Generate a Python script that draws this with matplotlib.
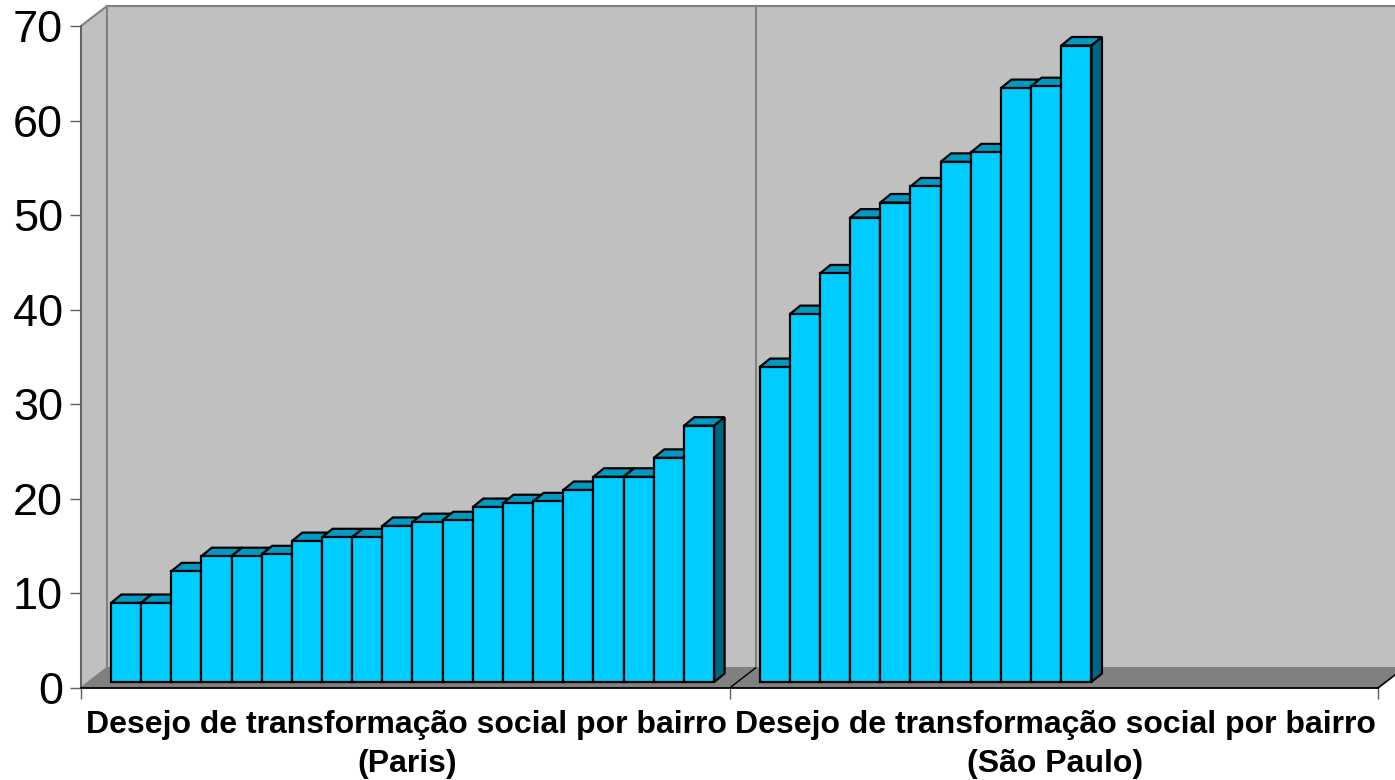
import matplotlib
matplotlib.use('Agg')
import matplotlib.pyplot as plt
from matplotlib.patches import Polygon
from matplotlib.transforms import Affine2D

paris = [8.35, 8.35, 11.7, 13.3, 13.3, 13.5, 14.9, 15.3, 15.3, 16.5,
         16.9, 17.1, 18.5, 18.9, 19.1, 20.3, 21.7, 21.7, 23.7, 27.1]
sao_paulo = [33.3, 38.9, 43.2, 49.1, 50.7, 52.4, 55.0, 56.0, 62.8, 63.0, 67.3]
y_ticks = [0, 10, 20, 30, 40, 50, 60, 70]
group_labels = ['Desejo de transformação social por bairro\n(Paris)',
                'Desejo de transformação social por bairro\n(São Paulo)']

X_MAX = 43
GROUP_EDGE = 21.5
PARIS_START = 0.99
SAO_PAULO_START = 22.5
WALL_DX, WALL_DY = 26, 20  # depth of the chart box, pixels
BASE_DY = 6                # bars stand a little behind the front edge
BAR_DX, BAR_DY = 10.5, 8.5 # depth of a bar, pixels

W, H = 1395, 780
fig = plt.figure(figsize=(W / 100, H / 100), dpi=100)
ax = fig.add_axes([81 / W, (H - 688) / H, 1297 / W, 662 / H])
ax.set_xlim(0, X_MAX)
ax.set_ylim(0, 70)
plt.rcParams['font.family'] = 'Liberation Sans'


def shifted(dx, dy):
    return ax.transData + Affine2D().translate(dx, dy)


def poly(points, dx, dy, **kwargs):
    ax.add_patch(Polygon(points, closed=True, transform=shifted(dx, dy), clip_on=False, **kwargs))


# side wall, back wall and floor
corners = [(0, 0), (0, 70)]
side = ax.transData.transform(corners)
back = ax.transData.transform(corners) + [WALL_DX, WALL_DY]
to_data = ax.transData.inverted()
side_wall = to_data.transform([side[0], side[1], back[1], back[0]])
ax.add_patch(Polygon(side_wall, closed=True, fc='#c0c0c0', ec='#808080', lw=1.5, clip_on=False, zorder=1))
poly([(0, 0), (0, 70), (X_MAX, 70), (X_MAX, 0)], WALL_DX, WALL_DY,
     fc='#c0c0c0', ec='#808080', lw=1.5, zorder=1)

floor = to_data.transform(ax.transData.transform([(0, 0), (X_MAX, 0)]))
floor_back = to_data.transform(ax.transData.transform([(X_MAX, 0), (0, 0)]) + [WALL_DX, WALL_DY])
ax.add_patch(Polygon(list(floor) + list(floor_back), closed=True, fc='#808080', ec='none',
                     clip_on=False, zorder=1.5))
ax.plot([X_MAX, floor_back[0][0]], [0, floor_back[0][1]], color='black', lw=1.2, clip_on=False, zorder=2)
edge_back = to_data.transform(ax.transData.transform((GROUP_EDGE, 0)) + [WALL_DX, WALL_DY])
ax.plot([GROUP_EDGE, edge_back[0]], [0, edge_back[1]], color='black', lw=1.0, clip_on=False, zorder=2)

# divider on the back wall
ax.plot([GROUP_EDGE, GROUP_EDGE], [0, 70], color='#808080', lw=1.5, transform=shifted(WALL_DX, WALL_DY),
        clip_on=False, zorder=1.6)


def draw_bars(values, start):
    for i, v in enumerate(values):
        x0, x1 = start + i, start + i + 1
        z = 3 + i * 0.01
        ends = ax.transData.transform([(x0, v), (x1, v), (x1, 0)]) + [0, BASE_DY]
        top = [ends[0], ends[1], ends[1] + [BAR_DX, BAR_DY], ends[0] + [BAR_DX, BAR_DY]]
        right = [ends[1], ends[2], ends[2] + [BAR_DX, BAR_DY], ends[1] + [BAR_DX, BAR_DY]]
        ax.add_patch(Polygon(to_data.transform(top), closed=True, fc='#0099c0', ec='black', lw=1.6,
                             clip_on=False, zorder=z))
        ax.add_patch(Polygon(to_data.transform(right), closed=True, fc='#006680', ec='black', lw=1.6,
                             clip_on=False, zorder=z))
        ax.bar(x0, v, width=1, align='edge', color='#00ccff', edgecolor='black', linewidth=1.6,
               transform=shifted(0, BASE_DY), clip_on=False, zorder=z + 0.005)


draw_bars(paris, PARIS_START)
draw_bars(sao_paulo, SAO_PAULO_START)

ax.patch.set_visible(False)
for name in ['top', 'right']:
    ax.spines[name].set_visible(False)
ax.spines['left'].set_color('#606060')
ax.spines['left'].set_linewidth(1.2)
ax.spines['bottom'].set_color('black')
ax.spines['bottom'].set_linewidth(1.3)
ax.spines['left'].set_zorder(2)
ax.spines['bottom'].set_zorder(2)

ax.set_yticks(y_ticks)
ax.set_yticklabels([str(t) for t in y_ticks], fontsize=32.5, family='Liberation Sans')
ax.tick_params(axis='y', length=8, width=1, color='#606060', pad=5)
ax.set_xticks([0, GROUP_EDGE, X_MAX])
ax.set_xticklabels([])
ax.tick_params(axis='x', which='major', length=8, width=1, color='#606060')
ax.set_xticks([GROUP_EDGE / 2 + 0.05, (GROUP_EDGE + X_MAX) / 2 + 0.05], minor=True)
ax.set_xticklabels(group_labels, minor=True, fontsize=23, fontweight='bold', family='Liberation Sans',
                   linespacing=1.4)
ax.tick_params(axis='x', which='minor', length=0, pad=16)

fig.savefig('out.png', dpi=100)
